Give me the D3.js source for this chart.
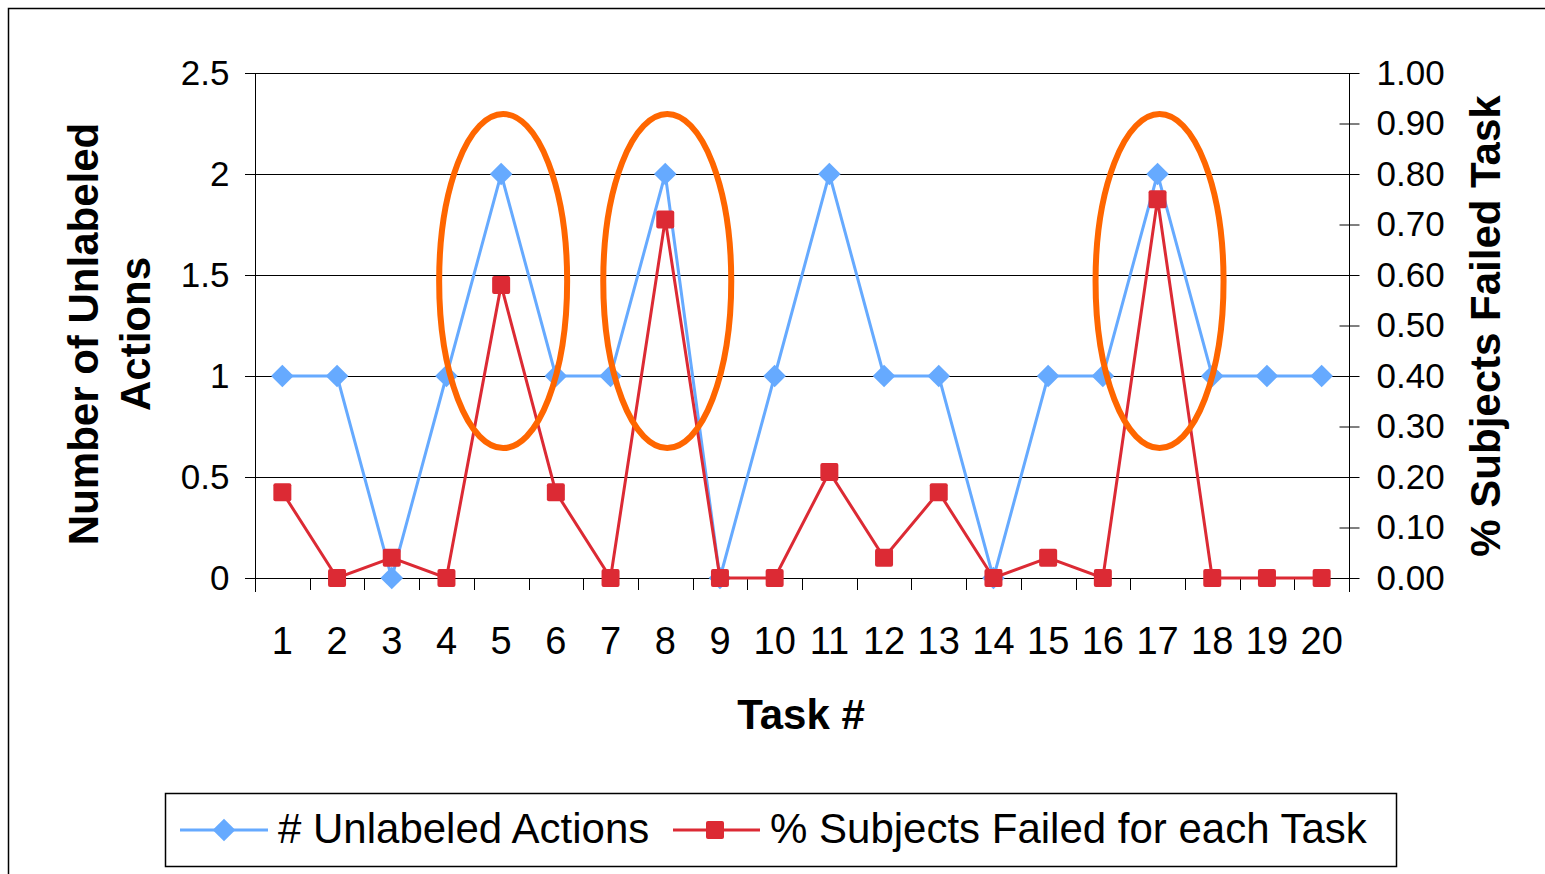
<!DOCTYPE html>
<html lang="en">
<head>
	<meta charset="UTF-8"/>
	<title>Unlabeled Actions per Task</title>
	<script src="https://d3js.org/d3.v7.min.js"></script>
	<style>
		body{ margin:0; background:#fff; }
		text{ font-family: "Liberation Sans", Arial, Helvetica, sans-serif; }
	</style>
</head>
<body>
	<script>
	// data
	var tasks = ["1","2","3","4","5","6","7","8","9","10","11","12","13","14","15","16","17","18","19","20"];
	var unlabeled = [1,1,0,1,2,1,1,2,0,1,2,1,1,0,1,1,2,1,1,1];
	var failed = [0.17,0,0.04,0,0.58,0.17,0,0.71,0,0,0.21,0.04,0.17,0,0.04,0,0.75,0,0,0];
	var leftTicks = [0,0.5,1,1.5,2,2.5];
	var rightTicks = [0,0.1,0.2,0.3,0.4,0.5,0.6,0.7,0.8,0.9,1.0];
	var circled = ["5","8","17"];

	var w = 1545, h = 874;
	var blue = "#66aaff", red = "#dc2a34", orange = "#ff6600";
	var font = "Liberation Sans, Arial, sans-serif";

	var svg = d3.select("body").append("svg")
		.attr("width", w).attr("height", h);

	// outer frame
	svg.append("path")
		.attr("d", "M8.5," + h + " V8.5 H" + w)
		.attr("fill", "none").attr("stroke", "#000").attr("stroke-width", 1.5);

	var x = d3.scaleBand().domain(tasks).range([255, 1349]);
	var yL = d3.scaleLinear().domain([0, 2.5]).range([578, 73]);
	var yR = d3.scaleLinear().domain([0, 1]).range([578, 73]);

	// gridlines
	svg.append("g").selectAll("line")
		.data(leftTicks.filter(function(d){ return d > 0; }))
		.enter().append("line")
		.attr("x1", 245).attr("x2", 1349)
		.attr("y1", function(d){ return Math.round(yL(d)) + 0.5; })
		.attr("y2", function(d){ return Math.round(yL(d)) + 0.5; })
		.attr("stroke", "#000").attr("stroke-width", 1);

	// left axis
	var left = svg.append("g").attr("transform", "translate(255.5,0)")
		.call(d3.axisLeft(yL).tickValues(leftTicks).tickSize(10).tickPadding(16)
			.tickFormat(function(d){ return d; }));
	left.select(".domain").attr("d", "M0," + yL(2.5) + "V592");
	left.selectAll("text").attr("font-size", 35).attr("fill", "#000")
		.style("font-family", font);

	// right axis
	var right = svg.append("g").attr("transform", "translate(1349.5,0)")
		.call(d3.axisRight(yR).tickValues(rightTicks).tickSize(0).tickPadding(27)
			.tickFormat(d3.format(".2f")));
	right.select(".domain").attr("d", "M0," + yR(1) + "V592");
	right.selectAll(".tick line").attr("x1", -10).attr("x2", 10);
	right.selectAll("text").attr("font-size", 35).attr("fill", "#000")
		.style("font-family", font);

	// x axis
	var bottom = svg.append("g").attr("transform", "translate(0,578.5)")
		.call(d3.axisBottom(x).tickSize(0).tickPadding(49));
	bottom.select(".domain").attr("d", "M245,0H1359");
	bottom.selectAll("text").attr("font-size", 38).attr("fill", "#000")
		.style("font-family", font);
	svg.append("g").selectAll("line")
		.data(tasks.slice(1))
		.enter().append("line")
		.attr("x1", function(d){ return Math.round(x(d)) + 0.5; })
		.attr("x2", function(d){ return Math.round(x(d)) + 0.5; })
		.attr("y1", 578).attr("y2", 590)
		.attr("stroke", "#000");

	var cx = function(d, i){ return x(tasks[i]) + x.bandwidth() / 2; };

	// blue series
	svg.append("path")
		.datum(unlabeled)
		.attr("fill", "none").attr("stroke", blue).attr("stroke-width", 3)
		.attr("d", d3.line().x(cx).y(function(d){ return yL(d); }));
	svg.append("g").selectAll("path")
		.data(unlabeled).enter().append("path")
		.attr("d", d3.symbol().type(d3.symbolSquare).size(256))
		.attr("transform", function(d, i){ return "translate(" + cx(d, i) + "," + yL(d) + ") rotate(45)"; })
		.attr("fill", blue);

	// red series
	svg.append("path")
		.datum(failed)
		.attr("fill", "none").attr("stroke", red).attr("stroke-width", 3)
		.attr("d", d3.line().x(cx).y(function(d){ return yR(d); }));
	svg.append("g").selectAll("rect")
		.data(failed).enter().append("rect")
		.attr("x", function(d, i){ return cx(d, i) - 9; })
		.attr("y", function(d){ return yR(d) - 9; })
		.attr("width", 18).attr("height", 18).attr("rx", 2)
		.attr("fill", red);

	// highlight ellipses
	svg.append("g").selectAll("ellipse")
		.data(circled).enter().append("ellipse")
		.attr("cx", function(d){ return x(d) + x.bandwidth() / 2 + 2; })
		.attr("cy", yL(1.47))
		.attr("rx", 64).attr("ry", 167)
		.attr("fill", "none").attr("stroke", orange).attr("stroke-width", 6);

	// axis titles
	svg.append("text")
		.attr("transform", "translate(98,334) rotate(-90)")
		.attr("text-anchor", "middle").attr("font-size", 42).attr("font-weight", "bold")
		.text("Number of Unlabeled");
	svg.append("text")
		.attr("transform", "translate(150,334) rotate(-90)")
		.attr("text-anchor", "middle").attr("font-size", 42).attr("font-weight", "bold")
		.text("Actions");
	svg.append("text")
		.attr("transform", "translate(1500,326) rotate(-90)")
		.attr("text-anchor", "middle").attr("font-size", 42).attr("font-weight", "bold")
		.text("% Subjects Failed Task");
	svg.append("text")
		.attr("x", 801).attr("y", 729)
		.attr("text-anchor", "middle").attr("font-size", 42).attr("font-weight", "bold")
		.text("Task #");

	// legend
	var legend = svg.append("g");
	legend.append("rect")
		.attr("x", 165.5).attr("y", 793.5).attr("width", 1231).attr("height", 73)
		.attr("fill", "#fff").attr("stroke", "#000").attr("stroke-width", 1.5);
	legend.append("line").attr("x1", 180).attr("x2", 268).attr("y1", 830).attr("y2", 830)
		.attr("stroke", blue).attr("stroke-width", 3);
	legend.append("path")
		.attr("d", d3.symbol().type(d3.symbolSquare).size(256))
		.attr("transform", "translate(224,830) rotate(45)").attr("fill", blue);
	legend.append("text").attr("x", 278).attr("y", 843).attr("font-size", 42)
		.text("# Unlabeled Actions");
	legend.append("line").attr("x1", 673).attr("x2", 760).attr("y1", 830).attr("y2", 830)
		.attr("stroke", red).attr("stroke-width", 3);
	legend.append("rect").attr("x", 706).attr("y", 821).attr("width", 18).attr("height", 18)
		.attr("rx", 2).attr("fill", red);
	legend.append("text").attr("x", 770).attr("y", 843).attr("font-size", 42)
		.text("% Subjects Failed for each Task");
	</script>
</body>
</html>
